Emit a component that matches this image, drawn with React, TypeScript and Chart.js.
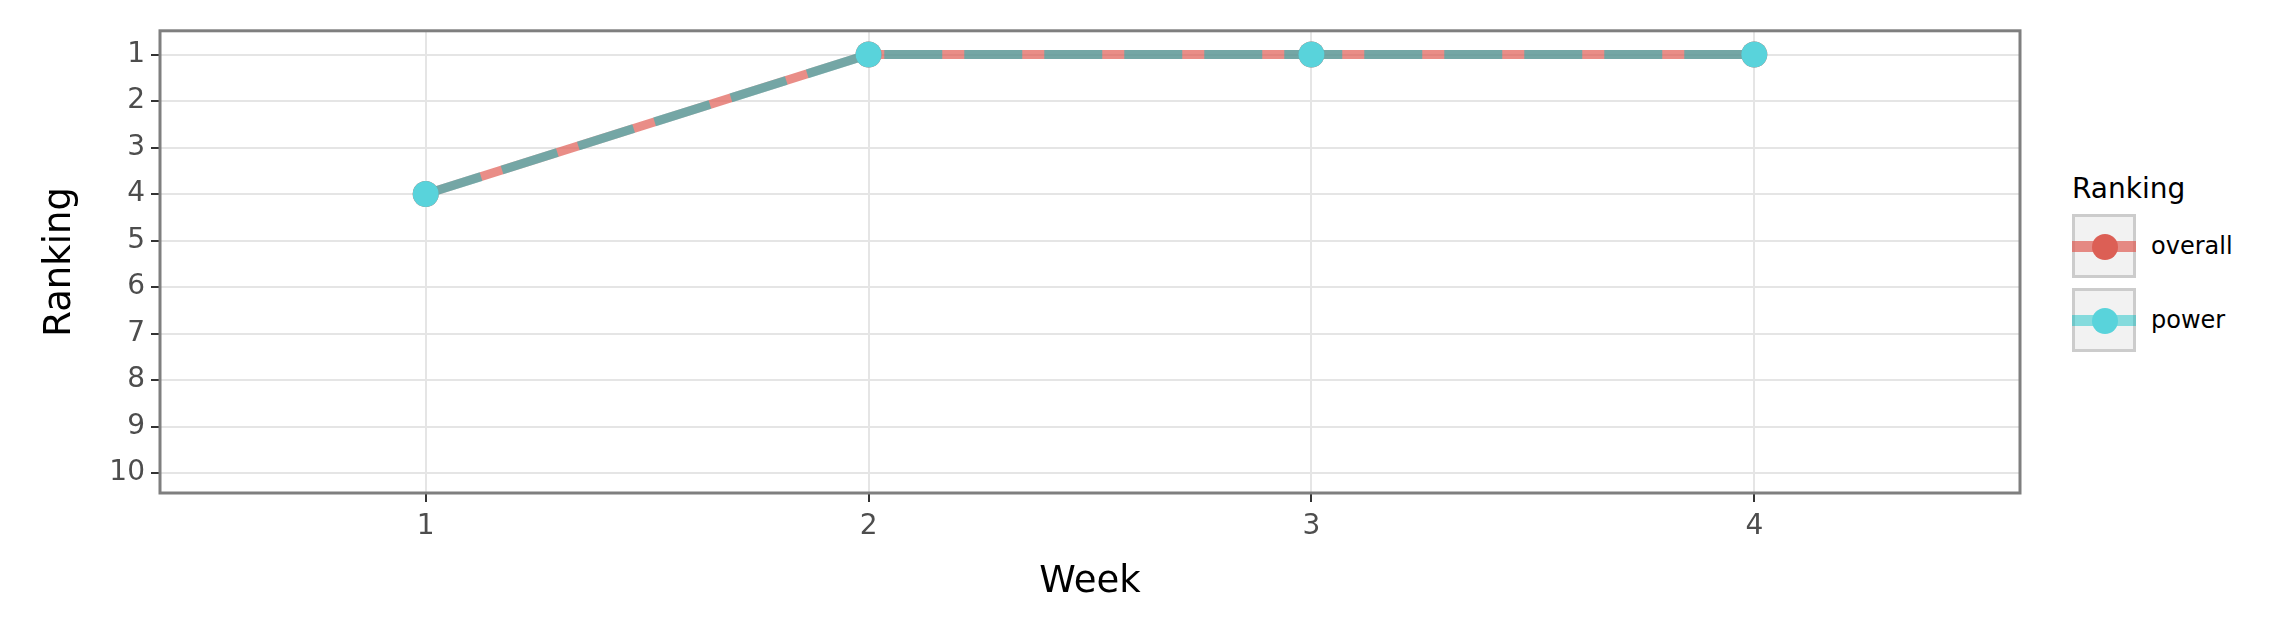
import { useEffect, useRef } from "react"
import { Chart, registerables } from "chart.js"

Chart.register(...registerables)

const weeks = [1, 2, 3, 4]
const overallRank = [4, 1, 1, 1]
const powerRank = [4, 1, 1, 1]
const rankTicks = [1, 2, 3, 4, 5, 6, 7, 8, 9, 10]

const RED = "rgba(224, 93, 84, 0.7)"
const CYAN = "rgba(0, 191, 196, 0.5)"
const FONT = "'DejaVu Sans', sans-serif"

const framePlugin = {
  id: "frame",
  afterDraw(chart: Chart) {
    const { ctx, chartArea: a } = chart
    ctx.save()
    ctx.strokeStyle = "#7f7f7f"
    ctx.lineWidth = 3
    ctx.strokeRect(a.left, a.top, a.right - a.left, a.bottom - a.top)
    ctx.restore()
  },
}

function RankChart() {
  const chartRef = useRef<HTMLCanvasElement>(null)
  const chartInstance = useRef<Chart | null>(null)

  useEffect(() => {
    if (!chartRef.current) return
    if (chartInstance.current) chartInstance.current.destroy()
    const ctx = chartRef.current.getContext("2d")
    if (!ctx) return

    chartInstance.current = new Chart(ctx, {
      type: "line",
      data: {
        datasets: [
          {
            label: "overall",
            data: weeks.map((w, i) => ({ x: w, y: overallRank[i] })),
            borderColor: RED,
            borderWidth: 9,
            pointRadius: 13,
            pointBackgroundColor: "#dc5f55",
            pointBorderWidth: 0,
            order: 1,
          },
          {
            label: "power",
            data: weeks.map((w, i) => ({ x: w, y: powerRank[i] })),
            borderColor: CYAN,
            borderWidth: 9,
            borderDash: [58, 22],
            pointRadius: 13,
            pointBackgroundColor: "#59d3db",
            pointBorderWidth: 0,
            order: 0,
          },
        ],
      },
      options: {
        animation: false,
        responsive: false,
        layout: { padding: { top: 18, right: 2, left: 26, bottom: 24 } },
        plugins: { legend: { display: false }, tooltip: { enabled: false } },
        scales: {
          x: {
            type: "linear",
            min: 0.4,
            max: 4.6,
            afterBuildTicks: (s: any) => {
              s.ticks = weeks.map((v) => ({ value: v }))
            },
            afterFit: (s: any) => {
              s.height = 116
            },
            grid: { color: "#e5e5e5", lineWidth: 2, tickColor: "#333", tickLength: 9 },
            border: { display: false },
            ticks: { font: { family: FONT, size: 28 }, color: "#4d4d4d", padding: 8 },
            title: {
              display: true,
              text: "Week",
              font: { family: FONT, size: 37 },
              color: "#000",
              padding: { top: 10 },
            },
          },
          y: {
            type: "linear",
            reverse: true,
            min: 0.49,
            max: 10.43,
            afterBuildTicks: (s: any) => {
              s.ticks = rankTicks.map((v) => ({ value: v }))
            },
            afterFit: (s: any) => {
              s.width = 126
            },
            grid: { color: "#e5e5e5", lineWidth: 2, tickColor: "#333", tickLength: 9 },
            border: { display: false },
            ticks: { font: { family: FONT, size: 28 }, color: "#4d4d4d", padding: 6 },
            title: {
              display: true,
              text: "Ranking",
              font: { family: FONT, size: 37 },
              color: "#000",
              padding: { bottom: 10 },
            },
          },
        },
      },
      plugins: [framePlugin],
    })

    return () => {
      if (chartInstance.current) chartInstance.current.destroy()
    }
  }, [])

  return <canvas ref={chartRef} width={2025} height={625} style={{ display: "block" }} />
}

function LegendKey({ color, lineColor, label, top }: { color: string; lineColor: string; label: string; top: number }) {
  return (
    <div style={{ position: "absolute", left: 2064, top, display: "flex", alignItems: "center" }}>
      <div
        style={{
          position: "relative",
          width: 58,
          height: 58,
          background: "#f2f2f2",
          border: "3px solid #cccccc",
        }}
      >
        <div style={{ position: "absolute", left: -3, right: -3, top: 24, height: 11, background: lineColor }} />
        <div
          style={{
            position: "absolute",
            left: 17,
            top: 17,
            width: 26,
            height: 26,
            borderRadius: "50%",
            background: color,
          }}
        />
      </div>
      <span style={{ marginLeft: 15, fontFamily: FONT, fontSize: 24, color: "#000" }}>{label}</span>
    </div>
  )
}

export default function App() {
  return (
    <div style={{ position: "relative", width: 2260, height: 625 }}>
      <RankChart />
      <div style={{ position: "absolute", left: 2064, top: 164, fontFamily: FONT, fontSize: 28, color: "#000" }}>
        Ranking
      </div>
      <LegendKey color="#dc5f55" lineColor="rgba(224, 93, 84, 0.7)" label="overall" top={206} />
      <LegendKey color="#59d3db" lineColor="rgba(0, 191, 196, 0.45)" label="power" top={280} />
    </div>
  )
}
